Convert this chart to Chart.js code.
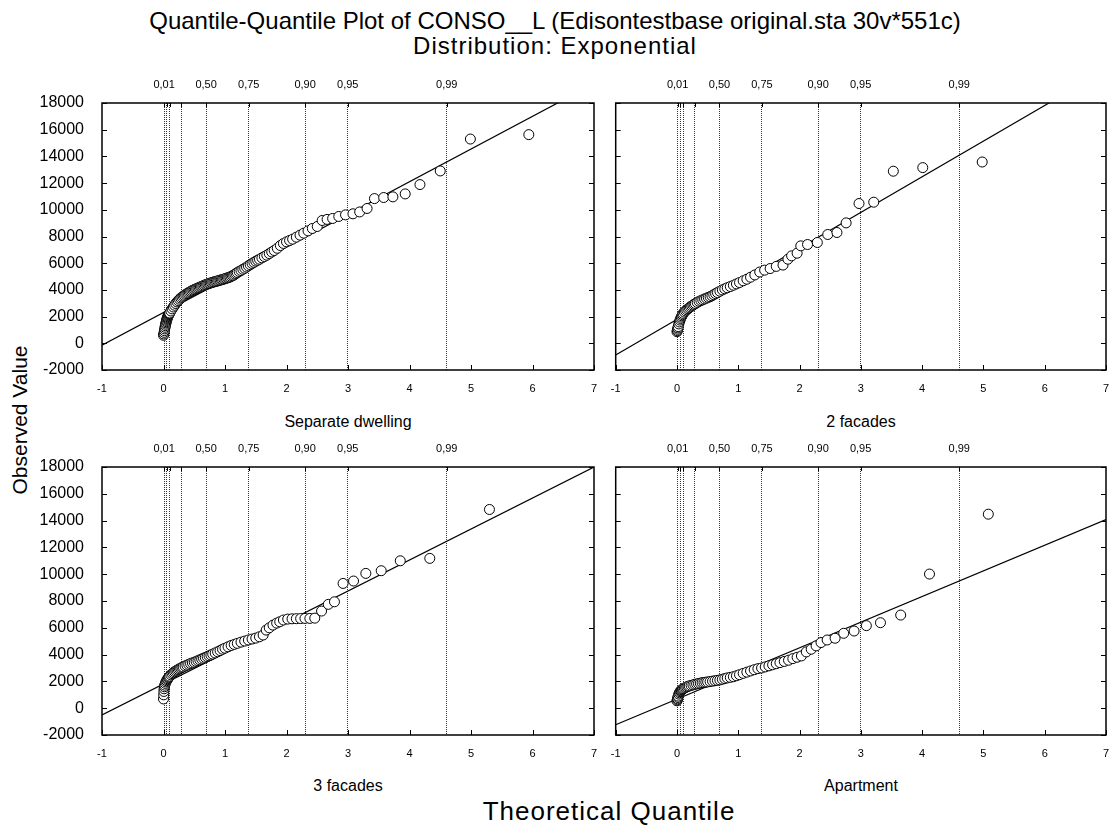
<!DOCTYPE html>
<html>
<head>
<meta charset="utf-8">
<script src="https://cdn.jsdelivr.net/npm/chart.js@4.4.1/dist/chart.umd.min.js"></script>
<style>
body { margin:0; background:#fff; width:1112px; height:825px; position:relative; overflow:hidden; font-family:"Liberation Sans", Arial, sans-serif; }
.t { position:absolute; white-space:nowrap; color:#000; transform:translate(-50%,-50%); }
canvas { position:absolute; }
</style>
</head>
<body>
<div class="t" style="left:555px;top:21px;font-size:24px">Quantile-Quantile Plot of CONSO__L (Edisontestbase original.sta 30v*551c)</div>
<div class="t" style="left:555px;top:46px;font-size:24px;letter-spacing:1px">Distribution: Exponential</div>
<div class="t" style="left:20px;top:420px;font-size:21px;transform:translate(-50%,-50%) rotate(-90deg)">Observed Value</div>
<div class="t" style="left:348px;top:422px;font-size:16px">Separate dwelling</div>
<div class="t" style="left:861px;top:422px;font-size:16px">2 facades</div>
<div class="t" style="left:348px;top:786px;font-size:16px">3 facades</div>
<div class="t" style="left:861px;top:786px;font-size:16px">Apartment</div>
<div class="t" style="left:609px;top:811px;font-size:26px;letter-spacing:1px">Theoretical Quantile</div>

<canvas id="c1" width="600" height="330" style="left:0px;top:75px"></canvas>
<canvas id="c2" width="507" height="330" style="left:605px;top:75px"></canvas>
<canvas id="c3" width="600" height="331" style="left:0px;top:439px"></canvas>
<canvas id="c4" width="507" height="331" style="left:605px;top:439px"></canvas>

<script>
// probabilities marked on the top axis
var quantProbs = [0.01, 0.05, 0.10, 0.25, 0.50, 0.75, 0.90, 0.95, 0.99];
var quantLabels = ['0,01', '', '', '', '0,50', '0,75', '0,90', '0,95', '0,99'];

// Separate dwelling
var sepX = [0, 0.005, 0.01, 0.015, 0.02, 0.025, 0.03, 0.035, 0.04, 0.045, 0.05, 0.055, 0.06, 0.065, 0.07, 0.075,
    0.08, 0.085, 0.09, 0.095, 0.10, 0.12, 0.14, 0.16, 0.18, 0.20, 0.22, 0.24, 0.26, 0.28, 0.30, 0.32, 0.34, 0.36,
    0.38, 0.40, 0.42, 0.44, 0.46, 0.48, 0.50, 0.52, 0.54, 0.56, 0.58, 0.60, 0.62, 0.64, 0.66, 0.68, 0.70, 0.72,
    0.74, 0.76, 0.78, 0.80, 0.82, 0.84, 0.86, 0.88, 0.90, 0.92, 0.94, 0.96, 0.98, 1.00, 1.02, 1.04, 1.06, 1.08,
    1.10, 1.12, 1.14, 1.16, 1.18, 1.20, 1.23, 1.26, 1.29, 1.32, 1.35, 1.38, 1.41, 1.44, 1.47, 1.50, 1.53, 1.56,
    1.60, 1.64, 1.68, 1.72, 1.76, 1.80, 1.85, 1.90, 1.95, 2.00, 2.05, 2.10, 2.16, 2.22, 2.28, 2.35, 2.42, 2.50,
    2.58, 2.66, 2.75, 2.85, 2.96, 3.08, 3.19, 3.31, 3.43, 3.58, 3.73, 3.93, 4.17, 4.50, 4.99, 5.94];
var sepY = [600, 700, 820, 950, 1080, 1200, 1320, 1430, 1530, 1620, 1710, 1790, 1860, 1930, 1990, 2050,
    2100, 2150, 2190, 2230, 2270, 2420, 2580, 2720, 2850, 2980, 3100, 3200, 3300, 3390, 3460, 3530, 3590, 3660,
    3720, 3770, 3830, 3880, 3930, 3980, 4020, 4060, 4100, 4140, 4180, 4220, 4260, 4300, 4340, 4380, 4420, 4450,
    4480, 4510, 4540, 4570, 4600, 4620, 4650, 4670, 4700, 4730, 4750, 4780, 4810, 4840, 4870, 4900, 4930, 4960,
    5010, 5060, 5100, 5170, 5230, 5300, 5380, 5450, 5540, 5620, 5710, 5800, 5890, 5980, 6060, 6150, 6220, 6300,
    6400, 6500, 6600, 6720, 6840, 6950, 7120, 7320, 7480, 7600, 7700, 7800, 7950, 8100, 8250, 8420, 8600, 8750,
    9200, 9280, 9350, 9500, 9620, 9700, 9840, 10100, 10840, 10920, 10970, 11190, 11890, 12910, 15300, 15630];

// 2 facades
var f2X = [0, 0.005, 0.01, 0.015, 0.02, 0.03, 0.04, 0.05, 0.06, 0.07, 0.08, 0.09, 0.10, 0.12, 0.14, 0.16, 0.18,
    0.20, 0.22, 0.24, 0.26, 0.28, 0.30, 0.33, 0.36, 0.39, 0.42, 0.45, 0.48, 0.51, 0.54, 0.57, 0.60, 0.63, 0.66,
    0.70, 0.74, 0.78, 0.82, 0.87, 0.92, 0.97, 1.02, 1.08, 1.14, 1.20, 1.27, 1.35, 1.43, 1.52, 1.62, 1.73, 1.81,
    1.87, 1.96, 2.02, 2.13, 2.29, 2.46, 2.61, 2.76, 2.97, 3.21, 3.53, 4.01, 4.98];
var f2Y = [870, 950, 1050, 1150, 1250, 1450, 1600, 1740, 1860, 1960, 2060, 2150, 2240, 2340, 2430, 2510, 2590,
    2660, 2730, 2800, 2860, 2920, 2980, 3060, 3140, 3200, 3260, 3320, 3380, 3440, 3490, 3560, 3640, 3720, 3800,
    3900, 4000, 4080, 4160, 4250, 4350, 4450, 4550, 4680, 4800, 4950, 5120, 5340, 5480, 5600, 5760, 5860, 6300,
    6550, 6750, 7300, 7400, 7550, 8150, 8300, 9020, 10470, 10570, 12890, 13160, 13580];

// 3 facades
var f3X = [0, 0.003, 0.006, 0.01, 0.015, 0.02, 0.03, 0.04, 0.05, 0.06, 0.07, 0.08, 0.09, 0.10, 0.12, 0.14, 0.16,
    0.18, 0.20, 0.22, 0.24, 0.26, 0.28, 0.30, 0.32, 0.35, 0.38, 0.41, 0.44, 0.47, 0.50, 0.53, 0.56, 0.59, 0.62,
    0.65, 0.68, 0.71, 0.74, 0.77, 0.80, 0.84, 0.88, 0.92, 0.96, 1.00, 1.05, 1.10, 1.15, 1.20, 1.26, 1.32, 1.38,
    1.44, 1.50, 1.56, 1.62, 1.67, 1.72, 1.78, 1.84, 1.89, 1.95, 2.02, 2.09, 2.16, 2.23, 2.30, 2.38, 2.46, 2.57,
    2.68, 2.78, 2.92, 3.09, 3.29, 3.54, 3.85, 4.33, 5.30];
var f3Y = [690, 1000, 1250, 1450, 1600, 1720, 1850, 1960, 2050, 2130, 2200, 2270, 2330, 2390, 2490, 2580, 2650,
    2720, 2780, 2840, 2890, 2940, 2990, 3040, 3080, 3150, 3210, 3270, 3330, 3380, 3430, 3490, 3550, 3610, 3670,
    3730, 3790, 3850, 3910, 3970, 4040, 4120, 4210, 4300, 4400, 4480, 4580, 4680, 4760, 4840, 4930, 5010, 5090,
    5160, 5230, 5330, 5460, 5830, 6000, 6200, 6350, 6450, 6580, 6650, 6670, 6680, 6690, 6700, 6700, 6720, 7250,
    7750, 7940, 9310, 9490, 10060, 10260, 11000, 11180, 14830];

// Apartment
var aptX = [0, 0.005, 0.01, 0.015, 0.02, 0.03, 0.04, 0.05, 0.06, 0.07, 0.08, 0.09, 0.10, 0.12, 0.14, 0.16, 0.18,
    0.20, 0.23, 0.26, 0.29, 0.32, 0.35, 0.38, 0.41, 0.44, 0.47, 0.50, 0.54, 0.58, 0.62, 0.66, 0.70, 0.74, 0.78,
    0.82, 0.87, 0.92, 0.97, 1.02, 1.08, 1.14, 1.20, 1.26, 1.32, 1.38, 1.44, 1.50, 1.56, 1.62, 1.68, 1.75, 1.82,
    1.89, 1.96, 2.03, 2.11, 2.19, 2.27, 2.35, 2.45, 2.58, 2.72, 2.89, 3.09, 3.32, 3.65, 4.12, 5.08];
var aptY = [550, 620, 700, 800, 900, 1050, 1150, 1230, 1290, 1340, 1380, 1420, 1450, 1500, 1550, 1590, 1630,
    1660, 1700, 1740, 1780, 1810, 1840, 1870, 1900, 1920, 1940, 1960, 1990, 2020, 2050, 2080, 2110, 2160, 2210,
    2260, 2300, 2350, 2420, 2500, 2600, 2690, 2780, 2870, 2950, 3000, 3080, 3160, 3240, 3320, 3400, 3490, 3580,
    3700, 3800, 3900, 4200, 4400, 4650, 4900, 5090, 5220, 5590, 5760, 6160, 6380, 6950, 10010, 14480];

// fitted reference lines: value at x = 0 and slope
var fitIntercept = [2300, 1795, 1812, 675];
var fitSlope = [2450, 2670, 2312, 1915];

var font = '"Liberation Sans", Arial, sans-serif';

var quantX = quantProbs.map(function (p) { return -Math.log(1 - p); });

function noPad(s) {
    s.paddingLeft = 0; s.paddingRight = 0; s.paddingTop = 0; s.paddingBottom = 0;
}

var frameTicks = {
    id: 'frameTicks',
    afterDraw: function (chart) {
        var c = chart.ctx, a = chart.chartArea;
        var xs = chart.scales.x, ys = chart.scales.y, xq = chart.scales.xq;
        c.save();
        c.strokeStyle = '#000';
        c.lineWidth = 1;
        c.beginPath();
        xs.ticks.forEach(function (t) {
            var px = Math.round(xs.getPixelForValue(t.value)) + 0.5;
            c.moveTo(px, a.bottom); c.lineTo(px, a.bottom - 5);
        });
        ys.ticks.forEach(function (t) {
            var py = Math.round(ys.getPixelForValue(t.value)) + 0.5;
            c.moveTo(a.left, py); c.lineTo(a.left + 5, py);
            c.moveTo(a.right, py); c.lineTo(a.right - 5, py);
        });
        xq.ticks.forEach(function (t) {
            var px = Math.round(xq.getPixelForValue(t.value)) + 0.5;
            c.moveTo(px, a.top); c.lineTo(px, a.top + 4);
        });
        c.stroke();
        c.lineWidth = 1.5;
        c.strokeRect(a.left, a.top, a.right - a.left, a.bottom - a.top);
        c.restore();
    }
};

function makePanel(id, xs, ys, k, showY) {
    var pts = xs.map(function (v, i) { return { x: v, y: ys[i] }; });
    var line = [-1, 7].map(function (v) { return { x: v, y: fitIntercept[k] + fitSlope[k] * v }; });
    return new Chart(document.getElementById(id), {
        type: 'scatter',
        data: {
            datasets: [
                {
                    data: pts,
                    pointRadius: 5,
                    pointBorderWidth: 1,
                    pointBorderColor: '#000',
                    pointBackgroundColor: '#fff'
                },
                {
                    type: 'line',
                    data: line,
                    borderColor: '#000',
                    borderWidth: 1.2,
                    pointRadius: 0,
                    fill: false
                }
            ]
        },
        options: {
            responsive: false,
            animation: false,
            events: [],
            layout: { padding: { left: 0, right: 5, top: 0, bottom: 0 } },
            plugins: { legend: { display: false }, tooltip: { enabled: false } },
            scales: {
                x: {
                    type: 'linear', position: 'bottom', min: -1, max: 7,
                    grid: { display: false },
                    border: { display: false },
                    ticks: { stepSize: 1, padding: 4, color: '#000', font: { family: font, size: 11 }, maxRotation: 0 },
                    afterFit: function (s) { s.height = 35; noPad(s); }
                },
                xq: {
                    type: 'linear', position: 'top', min: -1, max: 7,
                    afterBuildTicks: function (s) { s.ticks = quantX.map(function (v) { return { value: v }; }); },
                    grid: { display: true, drawOnChartArea: true, drawTicks: false, color: '#333', lineWidth: 1 },
                    border: { display: false, dash: [1, 1] },
                    ticks: {
                        autoSkip: false, maxRotation: 0, padding: 11, color: '#000',
                        font: { family: font, size: 11 },
                        callback: function (v, i) { return quantLabels[i]; }
                    },
                    afterFit: function (s) { s.height = 28; noPad(s); }
                },
                y: {
                    type: 'linear', min: -2000, max: 18000,
                    grid: { display: false },
                    border: { display: false },
                    ticks: {
                        stepSize: 2000, display: showY, padding: 10, color: '#000',
                        font: { family: font, size: 16 },
                        callback: function (v) { return String(v); }
                    },
                    afterFit: function (s) { s.width = showY ? 102 : 10.7; noPad(s); }
                }
            }
        },
        plugins: [frameTicks]
    });
}

makePanel('c1', sepX, sepY, 0, true);
makePanel('c2', f2X, f2Y, 1, false);
makePanel('c3', f3X, f3Y, 2, true);
makePanel('c4', aptX, aptY, 3, false);
</script>
</body>
</html>
